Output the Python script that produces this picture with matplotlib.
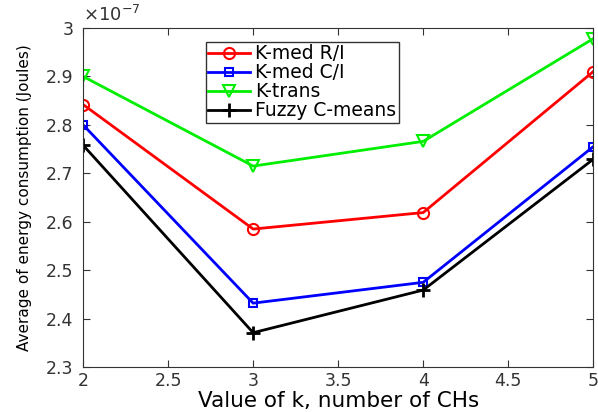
import matplotlib.pyplot as plt
from matplotlib.ticker import FuncFormatter

plt.rcParams["font.family"] = ["DejaVu Sans"]

k_values = [2, 3, 4, 5]
kmed_ri = [2.842e-7, 2.585e-7, 2.619e-7, 2.910e-7]
kmed_ci = [2.800e-7, 2.432e-7, 2.475e-7, 2.755e-7]
k_trans = [2.900e-7, 2.715e-7, 2.766e-7, 2.978e-7]
fuzzy_cmeans = [2.758e-7, 2.371e-7, 2.459e-7, 2.729e-7]

fig = plt.figure(figsize=(5.98, 4.12), dpi=100)
ax = fig.add_axes([0.139, 0.109, 0.853, 0.823])

ax.plot(k_values, kmed_ri, color="red", marker="o", mfc="none", ms=8, mew=1.5, lw=2, label="K-med R/I")
ax.plot(k_values, kmed_ci, color="blue", marker="s", mfc="none", ms=6, mew=1.5, lw=2, label="K-med C/I")
ax.plot(k_values, k_trans, color="#00ee00", marker="v", mfc="none", ms=9, mew=1.5, lw=2, label="K-trans")
ax.plot(k_values, fuzzy_cmeans, color="black", marker="+", ms=10, mew=2, lw=2, label="Fuzzy C-means")

ax.set_xlim(2, 5)
ax.set_ylim(2.3e-7, 3.0e-7)
ax.set_xticks([2, 2.5, 3, 3.5, 4, 4.5, 5])
ax.set_xticklabels(["2", "2.5", "3", "3.5", "4", "4.5", "5"])
ax.set_yticks([2.3e-7, 2.4e-7, 2.5e-7, 2.6e-7, 2.7e-7, 2.8e-7, 2.9e-7, 3.0e-7])
ax.yaxis.set_major_formatter(FuncFormatter(lambda v, p: f"{v * 1e7:.1f}".rstrip("0").rstrip(".")))

# exponent label like MATLAB
ax.text(0.0, 1.01, r"$\times10^{-7}$", transform=ax.transAxes, fontsize=13,
        color="#333333", ha="left", va="bottom")

ax.tick_params(direction="in", top=True, right=True, labelsize=12.5, length=5, colors="#333333")
ax.tick_params(axis="y", pad=7)
for s in ax.spines.values():
    s.set_color("#333333")

ax.set_xlabel("Value of k, number of CHs", fontsize=15.5, labelpad=1)
ax.set_ylabel("Average of energy consumption (Joules)", fontsize=11, labelpad=10)

ax.legend(loc="upper left", bbox_to_anchor=(0.24, 0.96), fontsize=13.5, frameon=True,
          fancybox=False, edgecolor="black", handlelength=2.2, borderpad=0.15,
          labelspacing=0.0, handletextpad=0.3, borderaxespad=0)

fig.savefig("out.png", dpi=100)
